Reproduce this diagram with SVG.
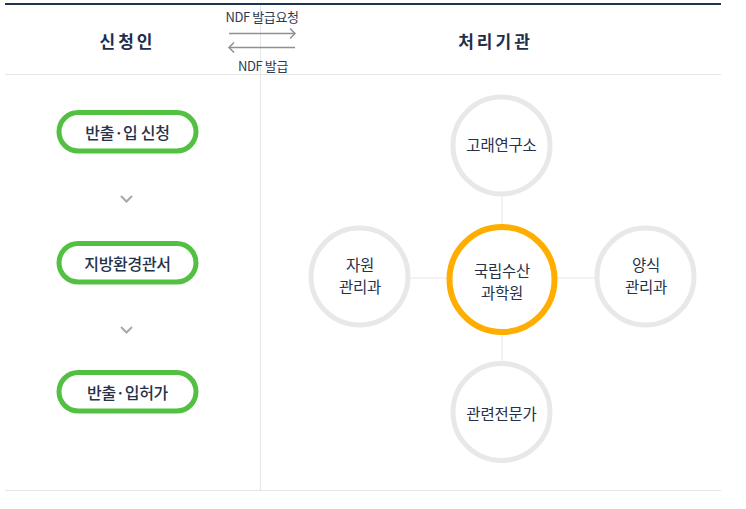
<svg xmlns="http://www.w3.org/2000/svg" width="746" height="509" viewBox="0 0 746 509">
<style>
text{font-family:"Noto Sans CJK KR","Noto Sans",sans-serif;fill:#26324a;text-anchor:middle;dominant-baseline:central}
.title{font-size:17px;font-weight:700;letter-spacing:3px;fill:#1f2f4b}
.small{font-size:13px;letter-spacing:-0.4px;fill:#2f3a52}
.pill{fill:#fff;stroke:#52c141;stroke-width:5}
.ptxt{font-size:16px;font-weight:500;letter-spacing:-0.3px}
.chev{fill:none;stroke:#a3a8b2;stroke-width:2}
.arr{fill:none;stroke:#8c9099;stroke-width:1.5}
.gc{fill:#fff;stroke:#e8e8e8;stroke-width:5}
.oc{fill:#fff;stroke:#ffae00;stroke-width:6}
.ctxt{font-size:15.5px;font-weight:400;letter-spacing:-0.2px}
.grid{stroke:#e6e6e6;stroke-width:1}
</style>
<rect width="746" height="509" fill="#fff"/>
<g id="frame">
<line class="grid" x1="260.5" y1="5" x2="260.5" y2="490"/>
<line class="grid" x1="5" y1="74.5" x2="721" y2="74.5"/>
<line class="grid" x1="5" y1="490.5" x2="721" y2="490.5"/>
<line x1="5" y1="4" x2="721" y2="4" stroke="#1e3452" stroke-width="2"/>
</g>
<g id="headers">
<text class="title" x="127.5" y="40">신청인</text>
<text class="title" x="495.5" y="40">처리기관</text>
</g>
<g id="connectors">
<line class="arr" x1="229" y1="33.5" x2="295" y2="33.5"/>
<polyline class="arr" points="290,28.5 295,33.5 290,38.5"/>
<line class="arr" x1="229" y1="47.5" x2="295" y2="47.5"/>
<polyline class="arr" points="234,42.5 229,47.5 234,52.5"/>
<polyline class="chev" points="121,196 126.5,201.5 132,196"/>
<polyline class="chev" points="121,327 126.5,332.5 132,327"/>
<line class="grid" x1="502" y1="196" x2="502" y2="362"/>
<line class="grid" x1="410" y1="278" x2="595" y2="278"/>
</g>
<g id="arrow-labels">
<text class="small" x="262" y="16">NDF 발급요청</text>
<text class="small" x="263" y="65">NDF 발급</text>
</g>
<g id="step1">
<rect class="pill" x="59" y="112.5" width="137" height="38.5" rx="19.25"/>
<text class="ptxt" x="127.5" y="132">반출·입 신청</text>
</g>
<g id="step2">
<rect class="pill" x="59" y="243.5" width="137" height="38.5" rx="19.25"/>
<text class="ptxt" x="127.5" y="263">지방환경관서</text>
</g>
<g id="step3">
<rect class="pill" x="59" y="372.5" width="137" height="38.5" rx="19.25"/>
<text class="ptxt" x="127.5" y="392">반출·입허가</text>
</g>
<g id="whale">
<circle class="gc" cx="501.5" cy="145.5" r="48.5"/>
<text class="ctxt" x="501.5" y="144">고래연구소</text>
</g>
<g id="resource">
<circle class="gc" cx="359.5" cy="276.5" r="48.5"/>
<text class="ctxt" x="360" y="263.5">자원</text>
<text class="ctxt" x="360" y="286">관리과</text>
</g>
<g id="nifs">
<circle class="oc" cx="502" cy="279.5" r="52.5"/>
<text class="ctxt" x="502" y="269.5">국립수산</text>
<text class="ctxt" x="502" y="292">과학원</text>
</g>
<g id="aquaculture">
<circle class="gc" cx="645.5" cy="276.5" r="48.5"/>
<text class="ctxt" x="646" y="263.5">양식</text>
<text class="ctxt" x="646" y="286">관리과</text>
</g>
<g id="experts">
<circle class="gc" cx="501.5" cy="412" r="48.5"/>
<text class="ctxt" x="501.5" y="413">관련전문가</text>
</g>
</svg>
